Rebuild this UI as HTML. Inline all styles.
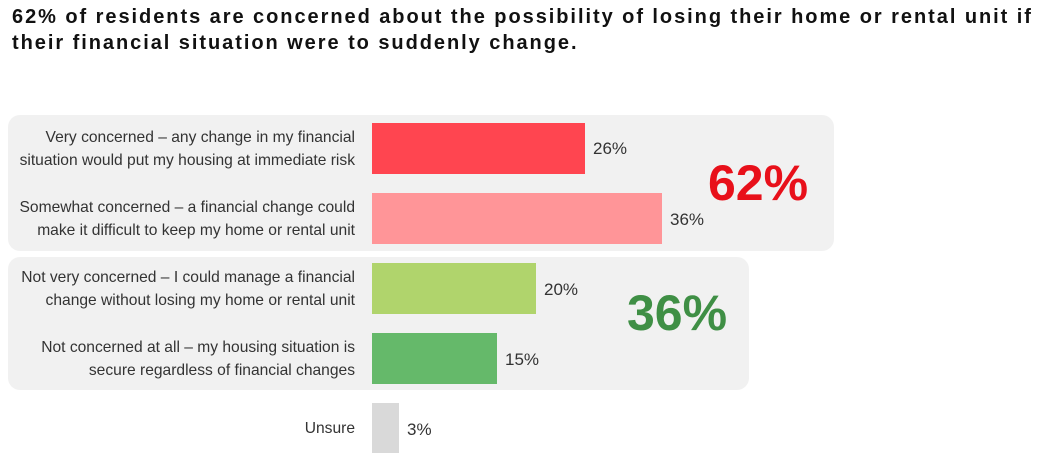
<!DOCTYPE html>
<html><head><meta charset="utf-8"><style>
body{margin:0;width:1050px;height:458px;background:#fff;font-family:"Liberation Sans",sans-serif;position:relative;overflow:hidden}
.t{position:absolute;left:12px;top:4px;font-weight:bold;font-size:20px;letter-spacing:1.95px;line-height:26px;color:#111;white-space:nowrap}
.p{position:absolute;background:#f1f1f1;border-radius:12px}
.b{position:absolute;left:372px}
.l{position:absolute;right:695px;width:360px;text-align:right;font-size:15.6px;line-height:23px;color:#333;white-space:nowrap}
.v{position:absolute;font-size:17px;color:#333}
.big{position:absolute;font-weight:bold;font-size:50px;line-height:50px}
</style></head><body>
<div class="t">62% of residents are concerned about the possibility of losing their home or rental unit if<br>their financial situation were to suddenly change.</div>
<div class="p" style="left:8px;top:115px;width:826px;height:136px"></div>
<div class="p" style="left:8px;top:257px;width:741px;height:133px"></div>
<div class="b" style="top:123px;width:213px;height:51px;background:#ff4550"></div>
<div class="b" style="top:193px;width:290px;height:51px;background:#ff9598"></div>
<div class="b" style="top:263px;width:164px;height:51px;background:#b0d46c"></div>
<div class="b" style="top:333px;width:125px;height:51px;background:#65b96a"></div>
<div class="b" style="top:403px;width:27px;height:50px;background:#d9d9d9"></div>
<div class="l" style="top:126px">Very concerned – any change in my financial<br>situation would put my housing at immediate risk</div>
<div class="l" style="top:196px">Somewhat concerned – a financial change could<br>make it difficult to keep my home or rental unit</div>
<div class="l" style="top:266px">Not very concerned – I could manage a financial<br>change without losing my home or rental unit</div>
<div class="l" style="top:336px">Not concerned at all – my housing situation is<br>secure regardless of financial changes</div>
<div class="l" style="top:417px">Unsure</div>
<div class="v" style="left:593px;top:139px">26%</div>
<div class="v" style="left:670px;top:210px">36%</div>
<div class="v" style="left:544px;top:280px">20%</div>
<div class="v" style="left:505px;top:350px">15%</div>
<div class="v" style="left:407px;top:420px">3%</div>
<div class="big" style="left:708px;top:158px;color:#e8101a">62%</div>
<div class="big" style="left:627px;top:288px;color:#3f8f45">36%</div>
</body></html>
